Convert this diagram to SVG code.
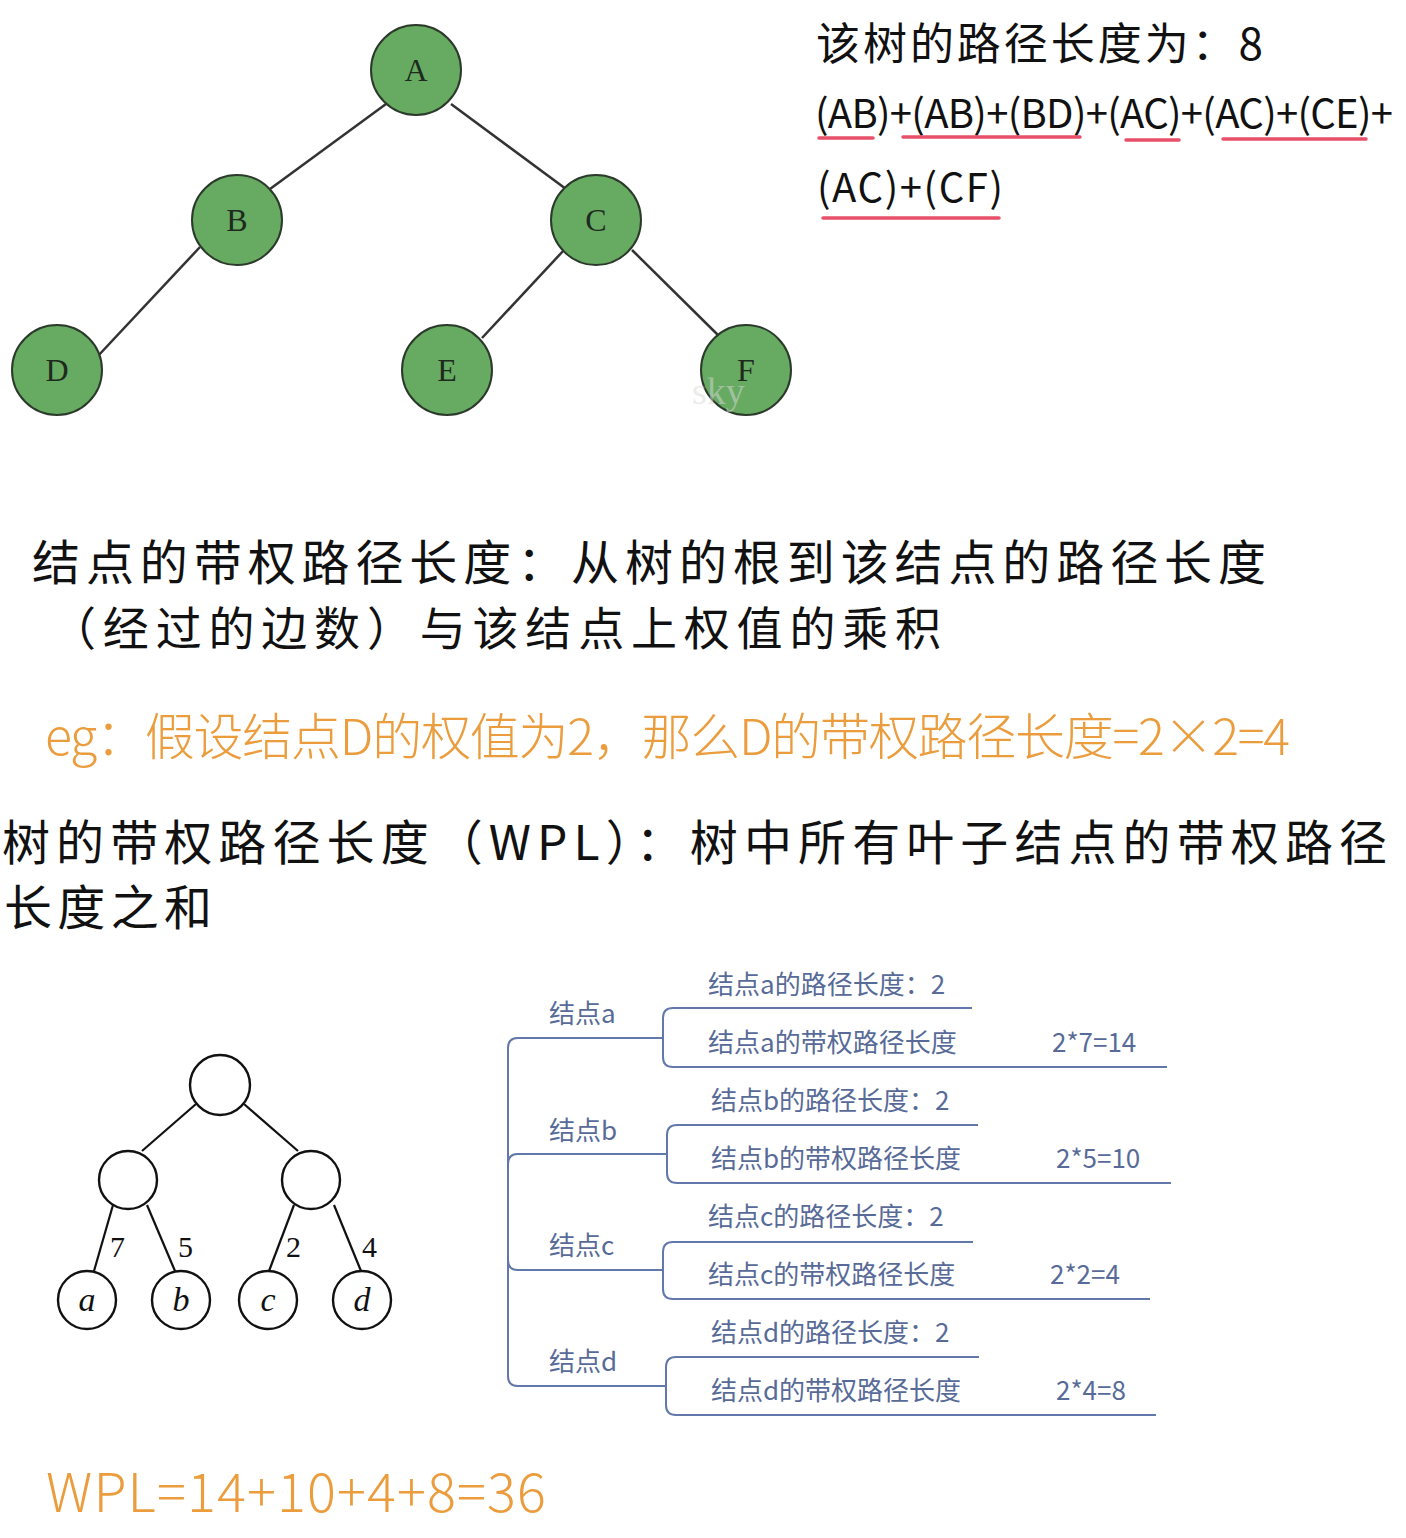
<svg xmlns="http://www.w3.org/2000/svg" width="1406" height="1538" viewBox="0 0 1406 1538">
<style>
.g{fill:#67aa62;stroke:#2c3a2c;stroke-width:2}
.gl{font-family:"Liberation Serif",serif;font-size:32px;fill:#1d2a1d;text-anchor:middle}
.e{stroke:#333;stroke-width:2.5;fill:none}
.hw{font-family:"Noto Sans CJK SC",sans-serif;fill:#111}
.or{font-family:"Noto Sans CJK SC",sans-serif;fill:#eb9d3d;font-weight:300}
.ul{stroke:#e8506a;stroke-width:3.5;stroke-linecap:round;fill:none}
.w{fill:#fff;stroke:#111;stroke-width:2.4}
.bl{stroke:#111;stroke-width:2.2;fill:none}
.num{font-family:"Liberation Serif",serif;font-size:30px;fill:#111}
.lt{font-family:"Liberation Serif",serif;font-style:italic;font-size:34px;fill:#111;text-anchor:middle}
.mm{stroke:#6378aa;stroke-width:2;fill:none}
.mt{font-family:"Noto Sans CJK SC",sans-serif;font-size:26px;fill:#586b98}
</style>
<rect width="1406" height="1538" fill="#fff"/>

<g id="connectors">
  <line class="e" x1="386" y1="104" x2="270" y2="189"/>
  <line class="e" x1="451" y1="104" x2="566" y2="189"/>
  <line class="e" x1="200" y1="247" x2="97" y2="357"/>
  <line class="e" x1="564" y1="250" x2="482" y2="338"/>
  <line class="e" x1="632" y1="250" x2="721" y2="338"/>
  <line class="bl" x1="196" y1="1104" x2="142" y2="1151"/>
  <line class="bl" x1="244" y1="1104" x2="298" y2="1151"/>
  <line class="bl" x1="113" y1="1205" x2="94" y2="1271"/>
  <line class="bl" x1="147" y1="1205" x2="175" y2="1271"/>
  <line class="bl" x1="294" y1="1205" x2="269" y2="1271"/>
  <line class="bl" x1="334" y1="1205" x2="361" y2="1271"/>
  <path class="mm" d="M663,1038 H518 Q508,1038 508,1048 V1376 Q508,1386 518,1386 H666"/>
  <path class="mm" d="M508,1164 Q508,1154 518,1154 H667"/>
  <path class="mm" d="M508,1260 Q508,1270 518,1270 H663"/>
  <path class="mm" d="M972,1008 H673 Q663,1008 663,1018 V1057 Q663,1067 673,1067 H1167"/>
  <path class="mm" d="M978,1125 H677 Q667,1125 667,1135 V1173 Q667,1183 677,1183 H1171"/>
  <path class="mm" d="M973,1242 H673 Q663,1242 663,1252 V1289 Q663,1299 673,1299 H1150"/>
  <path class="mm" d="M979,1357 H676 Q666,1357 666,1367 V1405 Q666,1415 676,1415 H1156"/>
</g>

<g id="node-A"><circle class="g" cx="416" cy="70" r="45"/><text class="gl" x="416" y="81">A</text></g>
<g id="node-B"><circle class="g" cx="237" cy="220" r="45"/><text class="gl" x="237" y="231">B</text></g>
<g id="node-C"><circle class="g" cx="596" cy="220" r="45"/><text class="gl" x="596" y="231">C</text></g>
<g id="node-D"><circle class="g" cx="57" cy="370" r="45"/><text class="gl" x="57" y="381">D</text></g>
<g id="node-E"><circle class="g" cx="447" cy="370" r="45"/><text class="gl" x="447" y="381">E</text></g>
<g id="node-F"><circle class="g" cx="746" cy="370" r="45"/><text class="gl" x="746" y="381">F</text></g>
<text x="692" y="404" font-family="Liberation Serif,serif" font-size="38" fill="#d9d9d9" opacity="0.5">sky</text>

<g id="path-length-note">
  <text class="hw" x="816" y="60" font-size="44" textLength="447">该树的路径长度为：8</text>
  <text class="hw" x="815" y="128" font-size="40" textLength="578">(AB)+(AB)+(BD)+(AC)+(AC)+(CE)+</text>
  <text class="hw" x="817" y="202" font-size="40" textLength="186">(AC)+(CF)</text>
  <line class="ul" x1="819" y1="138" x2="873" y2="138"/>
  <line class="ul" x1="903" y1="137" x2="1080" y2="137"/>
  <line class="ul" x1="1126" y1="140" x2="1179" y2="140"/>
  <line class="ul" x1="1223" y1="139" x2="1366" y2="139"/>
  <line class="ul" x1="823" y1="218" x2="999" y2="218"/>
</g>

<g id="definition-node">
  <text class="hw" x="32" y="580" font-size="48" textLength="1234">结点的带权路径长度：从树的根到该结点的路径长度</text>
  <text class="hw" x="50" y="645" font-size="46" textLength="891">（经过的边数）与该结点上权值的乘积</text>
</g>

<g id="example">
  <text class="or" x="45" y="755" font-size="50" textLength="1245">eg：假设结点D的权值为2，那么D的带权路径长度=2×2=4</text>
</g>

<g id="definition-wpl">
  <text class="hw" x="2" y="860" font-size="48" textLength="1385">树的带权路径长度（WPL）：树中所有叶子结点的带权路径</text>
  <text class="hw" x="4" y="925" font-size="48" textLength="208">长度之和</text>
</g>

<g id="tree2-root"><circle class="w" cx="220" cy="1085" r="30"/></g>
<g id="tree2-left"><circle class="w" cx="128" cy="1180" r="29"/></g>
<g id="tree2-right"><circle class="w" cx="311" cy="1180" r="29"/></g>
<g id="leaf-a"><circle class="w" cx="87" cy="1300" r="29"/><text class="lt" x="87" y="1311">a</text></g>
<g id="leaf-b"><circle class="w" cx="181" cy="1300" r="29"/><text class="lt" x="181" y="1311">b</text></g>
<g id="leaf-c"><circle class="w" cx="268" cy="1300" r="29"/><text class="lt" x="268" y="1311">c</text></g>
<g id="leaf-d"><circle class="w" cx="362" cy="1300" r="29"/><text class="lt" x="362" y="1311">d</text></g>
<g id="weights">
  <text class="num" x="110" y="1257">7</text>
  <text class="num" x="178" y="1257">5</text>
  <text class="num" x="286" y="1257">2</text>
  <text class="num" x="362" y="1257">4</text>
</g>

<g id="mm-a">
  <text class="mt" x="549" y="1023">结点a</text>
  <text class="mt" x="708" y="994">结点a的路径长度：2</text>
  <text class="mt" x="708" y="1052">结点a的带权路径长度</text>
  <text class="mt" x="1052" y="1052">2*7=14</text>
</g>
<g id="mm-b">
  <text class="mt" x="549" y="1140">结点b</text>
  <text class="mt" x="711" y="1110">结点b的路径长度：2</text>
  <text class="mt" x="711" y="1168">结点b的带权路径长度</text>
  <text class="mt" x="1056" y="1168">2*5=10</text>
</g>
<g id="mm-c">
  <text class="mt" x="549" y="1255">结点c</text>
  <text class="mt" x="708" y="1226">结点c的路径长度：2</text>
  <text class="mt" x="708" y="1284">结点c的带权路径长度</text>
  <text class="mt" x="1050" y="1284">2*2=4</text>
</g>
<g id="mm-d">
  <text class="mt" x="549" y="1371">结点d</text>
  <text class="mt" x="711" y="1342">结点d的路径长度：2</text>
  <text class="mt" x="711" y="1400">结点d的带权路径长度</text>
  <text class="mt" x="1056" y="1400">2*4=8</text>
</g>

<g id="wpl-result">
  <text class="or" x="46" y="1512" font-size="54" textLength="500">WPL=14+10+4+8=36</text>
</g>
</svg>
